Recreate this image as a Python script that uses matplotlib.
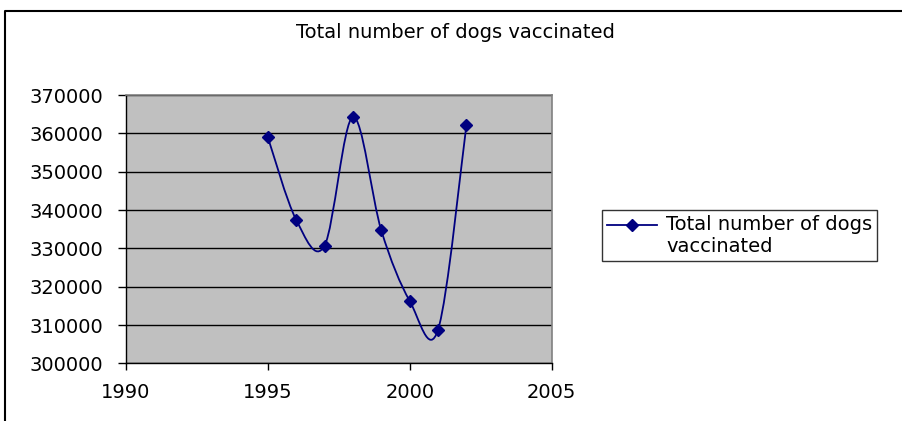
import matplotlib
matplotlib.use("Agg")
import matplotlib.pyplot as plt
import numpy as np
from matplotlib.path import Path
from matplotlib.patches import PathPatch
from matplotlib.lines import Line2D
from matplotlib.legend_handler import HandlerLine2D

# data
years = [1995, 1996, 1997, 1998, 1999, 2000, 2001, 2002]
dogs = [359100, 337500, 330700, 364300, 334700, 316300, 308800, 362300]
series_name = "Total number of dogs\nvaccinated"
title = "Total number of dogs vaccinated"

plt.rcParams['font.family'] = ['DejaVu Sans']
navy = '#000080'
fs = 14

fig = plt.figure(figsize=(9.02, 4.21), dpi=100)
ax = fig.add_axes([0.1394, 0.137, 0.4722, 0.637])
ax.set_facecolor('#C0C0C0')

# smoothed line like Excel (catmull-rom style bezier through the points)
x = np.array(years, dtype=float)
y = np.array(dogs, dtype=float)
pts = np.column_stack([x, y])
ext = np.vstack([pts[0], pts, pts[-1]])
verts = [tuple(pts[0])]
codes = [Path.MOVETO]
for i in range(len(pts) - 1):
    p0, p1, p2, p3 = ext[i], ext[i + 1], ext[i + 2], ext[i + 3]
    c1 = p1 + (p2 - p0) / 6.0
    c2 = p2 - (p3 - p1) / 6.0
    verts += [tuple(c1), tuple(c2), tuple(p2)]
    codes += [Path.CURVE4] * 3
ax.add_patch(PathPatch(Path(verts, codes), facecolor='none', edgecolor=navy,
                       lw=1.3, zorder=3))
ax.plot(years, dogs, linestyle='none', marker='D', ms=6, color=navy, zorder=4)

ax.set_xlim(1990, 2005)
ax.set_ylim(300000, 370000)
ax.set_xticks([1990, 1995, 2000, 2005])
ax.set_yticks(np.arange(300000, 370001, 10000))
ax.yaxis.grid(True, color='black', lw=1)
ax.set_axisbelow(True)
ax.tick_params(axis='y', direction='out', length=6, width=1, pad=10, labelsize=fs)
ax.tick_params(axis='x', direction='out', length=5, width=1, pad=9, labelsize=fs)
for s in ['top', 'right']:
    ax.spines[s].set_color('#808080')
    ax.spines[s].set_linewidth(1.2)
for s in ['left', 'bottom']:
    ax.spines[s].set_color('black')
    ax.spines[s].set_linewidth(1)

fig.text(0.505, 1 - 33 / 421, title, ha='center', va='center', fontsize=fs)


# legend handle sits next to the first text line, as in Excel
class FirstLineHandler(HandlerLine2D):
    def create_artists(self, *args, **kwargs):
        arts = super().create_artists(*args, **kwargs)
        for a in arts:
            a.set_ydata(np.asarray(a.get_ydata(), dtype=float) + 8)
        return arts


handle = Line2D([], [], color=navy, lw=1.3, marker='D', ms=6)
leg = fig.legend([handle], [series_name], loc='center left',
                 bbox_to_anchor=(602 / 902, 1 - 235.5 / 421), fontsize=fs,
                 frameon=True, fancybox=False, handlelength=2.6,
                 borderpad=0.25, handletextpad=0.45, borderaxespad=0,
                 handler_map={Line2D: FirstLineHandler()})
leg.get_frame().set_edgecolor('black')
leg.get_frame().set_linewidth(1)
for t in leg.get_texts():
    t.set_linespacing(1.25)

# outer chart border (top and left visible)
fig.add_artist(Line2D([4.5 / 902, 4.5 / 902, 1], [0, 1 - 11 / 421, 1 - 11 / 421],
                      transform=fig.transFigure, color='black', lw=1.5))

fig.savefig('out.png', dpi=100)
